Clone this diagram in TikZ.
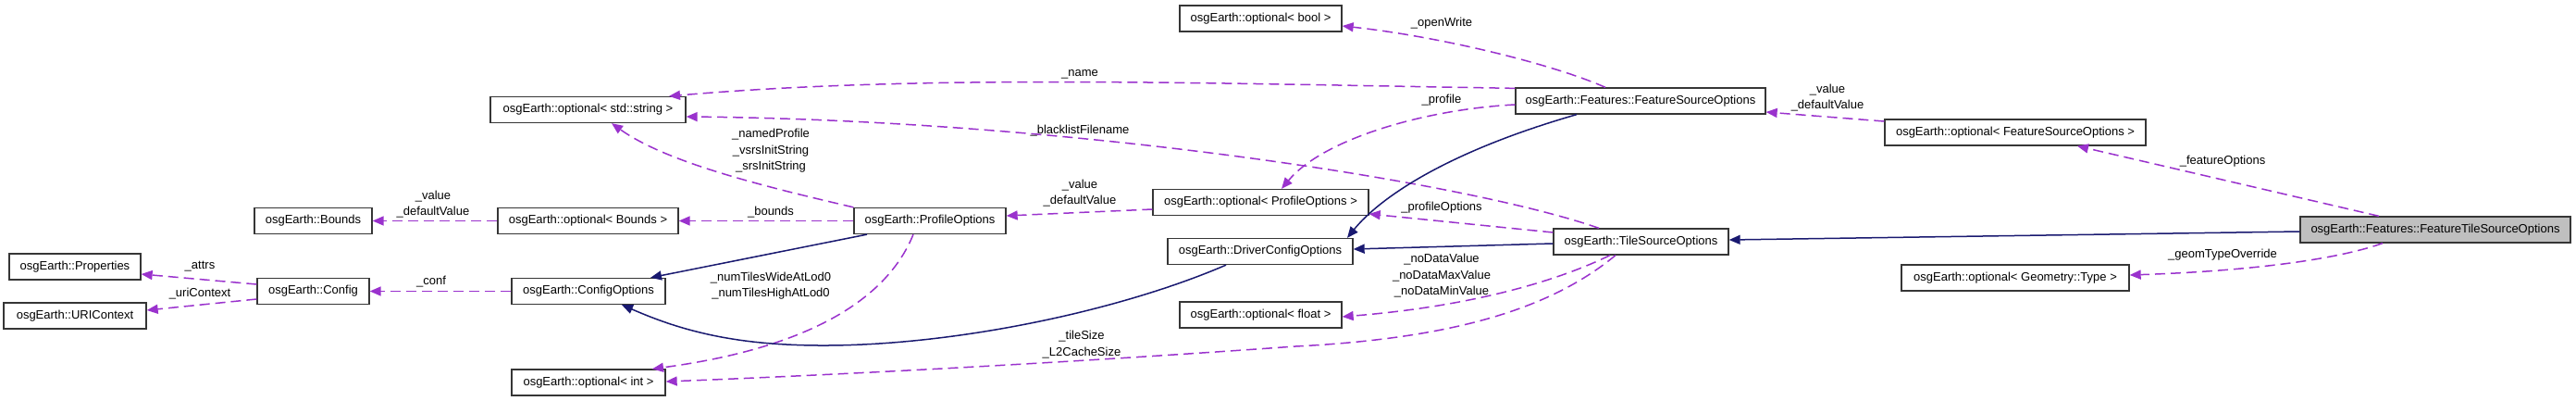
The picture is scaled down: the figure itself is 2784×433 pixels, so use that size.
\documentclass[tikz,border=0pt]{standalone}
\usepackage{fontspec}
\setmainfont{Liberation Sans}
\usetikzlibrary{arrows.meta}
\definecolor{edgepurple}{HTML}{9A32CD}
\definecolor{inhblue}{HTML}{191970}
\definecolor{boxgray}{HTML}{BFBFBF}
\definecolor{boxline}{HTML}{363636}
\begin{document}
\begin{tikzpicture}[x=1pt,y=-1pt,
  cls/.style={draw=boxline, line width=1.3pt, rectangle, inner sep=0pt, minimum height=28pt, font=\fontsize{13}{16}\selectfont},
  lbl/.style={inner sep=0pt, align=center, font=\fontsize{13}{17.5}\selectfont},
  use/.style={draw=edgepurple, line width=1.5pt, dash pattern=on 11pt off 6pt, -{Triangle[length=12pt,width=10pt]}},
  inh/.style={draw=inhblue, line width=1.5pt, -{Triangle[length=12pt,width=10pt]}},
]
\useasboundingbox (0,0) rectangle (2784,433);
\fill[white] (0,0) rectangle (2784,433);

% nodes
\node[cls, minimum width=142pt] (prop) at (81,288) {osgEarth::Properties};
\node[cls, minimum width=154pt] (uri) at (81,341) {osgEarth::URIContext};
\node[cls, minimum width=121pt] (config) at (338.5,314.5) {osgEarth::Config};
\node[cls, minimum width=127pt] (bounds) at (338.5,238.5) {osgEarth::Bounds};
\node[cls, minimum width=211pt] (optstr) at (635.5,118.5) {osgEarth::optional< std::string >};
\node[cls, minimum width=195pt] (optbounds) at (635.5,238.5) {osgEarth::optional< Bounds >};
\node[cls, minimum width=166pt] (copt) at (636,314.5) {osgEarth::ConfigOptions};
\node[cls, minimum width=166pt] (optint) at (636,413) {osgEarth::optional< int >};
\node[cls, minimum width=164pt] (profile) at (1005,238.5) {osgEarth::ProfileOptions};
\node[cls, minimum width=175pt] (optbool) at (1362.5,20) {osgEarth::optional< bool >};
\node[cls, minimum width=233pt] (optpo) at (1362.5,218.5) {osgEarth::optional< ProfileOptions >};
\node[cls, minimum width=200pt] (dco) at (1362,271.5) {osgEarth::DriverConfigOptions};
\node[cls, minimum width=175pt] (optfloat) at (1362.5,340) {osgEarth::optional< float >};
\node[cls, minimum width=270pt] (fso) at (1773,109) {osgEarth::Features::FeatureSourceOptions};
\node[cls, minimum width=189pt] (tso) at (1773.5,261) {osgEarth::TileSourceOptions};
\node[cls, minimum width=282pt] (optfso) at (2178,143) {osgEarth::optional< FeatureSourceOptions >};
\node[cls, minimum width=246pt] (optgeom) at (2178,300) {osgEarth::optional< Geometry::Type >};
\node[cls, minimum width=292pt, fill=boxgray] (ftso) at (2632,248) {osgEarth::Features::FeatureTileSourceOptions};

\coordinate (tsmid) at (1400,374);
\coordinate (dcomid) at (850,372);

% usage edges
\draw[use] ([yshift=7.5pt]config.west) -- ([yshift=-8pt]prop.east);
\draw[use] ([yshift=-8.5pt]config.west) -- ([yshift=6pt]uri.east);
\draw[use] (copt.west) -- (config.east);
\draw[use] (optbounds.west) -- (bounds.east);
\draw[use] (profile.west) -- (optbounds.east);
\draw[use] (profile.north west) .. controls (820,200) and (720,175) .. ([xshift=25.5pt]optstr.south);
\draw[use] ([yshift=-7.5pt]optpo.west) -- ([yshift=5.5pt]profile.east);
\draw[use] ([xshift=-18pt]profile.south) .. controls (960,320) and (880,375) .. ([xshift=69pt]optint.north);
\draw[use] ([yshift=-1pt]fso.north west) .. controls (1300,90) and (1000,80) .. ([xshift=87.5pt]optstr.north);
\draw[use] ([xshift=-38pt]fso.north) .. controls (1680,70) and (1560,40) .. ([yshift=-8pt]optbool.east);
\draw[use] ([yshift=-4pt]fso.west) .. controls (1540,118) and (1430,150) .. ([xshift=22.5pt]optpo.north);
\draw[use] ([yshift=12pt]optfso.west) -- ([yshift=-12pt]fso.east);
\draw[use] ([xshift=-45.5pt]tso.north) .. controls (1580,195) and (1150,130) .. ([yshift=-7.5pt]optstr.east);
\draw[use] ([yshift=10pt]tso.west) -- ([yshift=-12.5pt]optpo.east);
\draw[use] ([xshift=-33.5pt]tso.south) .. controls (1690,300) and (1600,330) .. ([yshift=-2pt]optfloat.east);
\draw[use] ([xshift=-27.5pt]tso.south) .. controls (1680,330) and (1580,365) .. (tsmid) .. controls (1150,392) and (900,405) .. ([yshift=1pt]optint.east);
\draw[use] ([xshift=-61pt]ftso.north) -- ([xshift=67pt]optfso.south);
\draw[use] ([xshift=-57pt]ftso.south) .. controls (2520,282) and (2420,293) .. ([yshift=3pt]optgeom.east);

% inheritance edges
\draw[inh] ([xshift=-68pt]profile.south) -- ([xshift=67pt]copt.north);
\draw[inh] ([xshift=-37pt]dco.south) .. controls (1200,340) and (1000,380) .. (dcomid) .. controls (770,368) and (720,350) .. ([xshift=36pt]copt.south);
\draw[inh] ([xshift=-69pt]fso.south) .. controls (1560,165) and (1490,215) .. ([xshift=94pt]dco.north);
\draw[inh] ([yshift=-2pt]tso.west) -- ([yshift=2.5pt]dco.east);
\draw[inh] ([yshift=-2pt]ftso.west) -- ([yshift=2pt]tso.east);

% labels
\node[lbl] (l1) at (216,288) {\_attrs};
\node[lbl] (l2) at (216,317) {\_uriContext};
\node[lbl] (l3) at (466,304) {\_conf};
\node[lbl] (l4) at (468,220.5) {\_value\\\_defaultValue};
\node[lbl] (l5) at (833,229) {\_bounds};
\node[lbl] (l6) at (833,163) {\_namedProfile\\\_vsrsInitString\\\_srsInitString};
\node[lbl] (l7) at (833,308.5) {\_numTilesWideAtLod0\\\_numTilesHighAtLod0};
\node[lbl] (l8) at (1167,80) {\_name};
\node[lbl] (l9) at (1167,141) {\_blacklistFilename};
\node[lbl] (l10) at (1167,208.5) {\_value\\\_defaultValue};
\node[lbl] (l11) at (1169,372) {\_tileSize\\\_L2CacheSize};
\node[lbl] (l12) at (1558,25) {\_openWrite};
\node[lbl] (l13) at (1558,108) {\_profile};
\node[lbl] (l14) at (1558,224) {\_profileOptions};
\node[lbl] (l15) at (1558,298) {\_noDataValue\\\_noDataMaxValue\\\_noDataMinValue};
\node[lbl] (l16) at (1975,105.5) {\_value\\\_defaultValue};
\node[lbl] (l17) at (2402,174) {\_featureOptions};
\node[lbl] (l18) at (2402,275) {\_geomTypeOverride};
\end{tikzpicture}
\end{document}
